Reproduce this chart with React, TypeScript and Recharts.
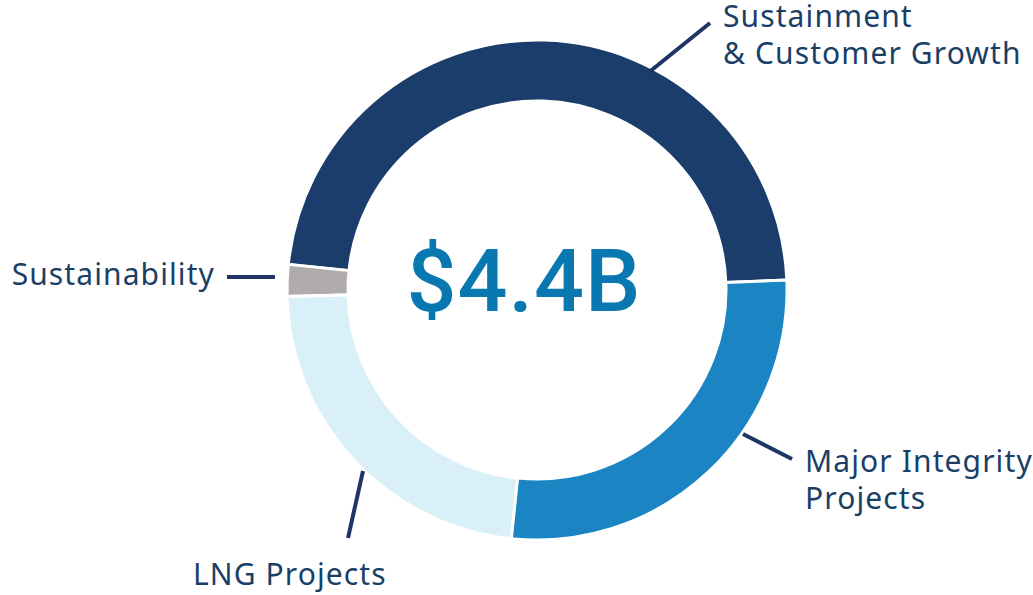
import React from "react";
import { PieChart, Pie, Cell } from "recharts";

// capital plan split, $B
const segments = ["Sustainment & Customer Growth", "Sustainability", "LNG Projects", "Major Integrity Projects"];
const amounts = [2.1, 0.09, 1.01, 1.2];
const labelLines = [
  ["Sustainment", "& Customer Growth"],
  ["Sustainability"],
  ["LNG Projects"],
  ["Major Integrity", "Projects"],
];
const totalLabel = "$4.4B";

const colors = ["#1a3d6b", "#b0acab", "#daf0f8", "#1a85c2"];
const INK = "#1a3f66";
const LEADER = "#1e3565";

// leader line + text placement, offsets from pie centre
const labelLayout = [
  { x1: 111, y1: -217, x2: 173, y2: -267, tx: 186, ty: -263, anchor: "start" },
  { x1: -310, y1: -13, x2: -262, y2: -13, tx: -322, ty: -5, anchor: "end" },
  { x1: -174, y1: 181, x2: -189, y2: 248, tx: -344, ty: 295, anchor: "start" },
  { x1: 206, y1: 144, x2: 255, y2: 169, tx: 268, ty: 182, anchor: "start" },
];

const data = segments.map((name, i) => ({ name, value: amounts[i] }));

const renderLabel = (props: any) => {
  const { cx, cy, index } = props;
  const l = labelLayout[index];
  return (
    <g>
      <line
        x1={cx + l.x1}
        y1={cy + l.y1}
        x2={cx + l.x2}
        y2={cy + l.y2}
        stroke={LEADER}
        strokeWidth={4}
      />
      <text
        x={cx + l.tx}
        y={cy + l.ty}
        textAnchor={l.anchor}
        fill={INK}
        fontSize={30}
        letterSpacing={1.1}
        fontFamily="'Noto Sans', sans-serif"
      >
        {labelLines[index].map((t, k) => (
          <tspan key={k} x={cx + l.tx} dy={k === 0 ? 0 : 37}>
            {t}
          </tspan>
        ))}
      </text>
    </g>
  );
};

export default function App() {
  return (
    <div style={{ position: "absolute", left: 0, top: 0, background: "#fff" }}>
      <PieChart width={1033} height={595} margin={{ top: 0, right: 0, bottom: 0, left: 0 }}>
        <Pie
          data={data}
          dataKey="value"
          nameKey="name"
          cx={537}
          cy={290}
          innerRadius={189}
          outerRadius={250}
          startAngle={2.3}
          endAngle={362.3}
          stroke="#ffffff"
          strokeWidth={3}
          label={renderLabel}
          labelLine={false}
          isAnimationActive={false}
        >
          {data.map((d, i) => (
            <Cell key={d.name} fill={colors[i]} />
          ))}
        </Pie>
        <text
          x={524}
          y={311}
          textAnchor="middle"
          fill="#0a78b0"
          fontSize={88}
          fontWeight={500}
          letterSpacing={1}
          fontFamily="Roboto, sans-serif"
        >
          {totalLabel}
        </text>
      </PieChart>
    </div>
  );
}
